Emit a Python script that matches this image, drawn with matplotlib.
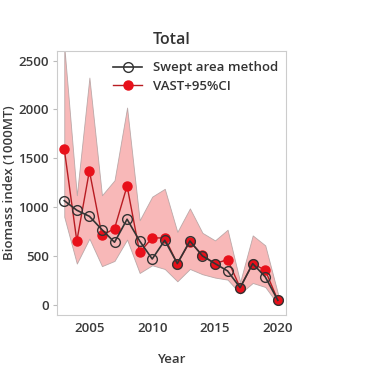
import matplotlib.pyplot as plt

# data
years = list(range(2003, 2021))
swept = [1069, 971, 909, 773, 644, 879, 657, 473, 664, 426, 657, 504, 426, 351, 180, 426, 290, 51]
vast = [1597, 657, 1373, 715, 783, 1219, 541, 688, 688, 426, 650, 511, 426, 467, 180, 426, 358, 51]
vast_hi = [2650, 1124, 2326, 1124, 1277, 2020, 869, 1110, 1190, 750, 990, 740, 663, 772, 238, 714, 612, 122]
vast_lo = [903, 426, 681, 400, 453, 671, 330, 409, 371, 245, 371, 317, 283, 262, 119, 228, 187, 10]

plt.rcParams['font.family'] = ['Open Sans', 'DejaVu Sans']

fig = plt.figure(figsize=(3.7, 3.76), dpi=100)
ax = fig.add_axes([0.155, 0.162, 0.618, 0.703])

ax.fill_between(years, vast_lo, vast_hi, facecolor='#f7acac', edgecolor='#b0a0a0',
                linewidth=0.6, alpha=0.85, zorder=1)
ax.plot(years, swept, color='#333333', lw=1.2, marker='o', ms=7,
        markerfacecolor='none', markeredgecolor='#333333', mew=1.0,
        label='Swept area method', zorder=3)
ax.plot(years, vast, color='#b81c22', lw=1.0, marker='o', ms=6.5,
        markerfacecolor='#e8101a', markeredgecolor='#e8101a',
        label='VAST+95%CI', zorder=2)

ax.set_xlim(2002.45, 2020.65)
ax.set_ylim(-100, 2600)
ax.set_xticks([2005, 2010, 2015, 2020])
ax.set_yticks([0, 500, 1000, 1500, 2000, 2500])

for s in ax.spines.values():
    s.set_color('#cccccc')
ax.tick_params(axis='both', labelsize=9.5, colors='#3a3a3a', length=3)
ax.tick_params(axis='x', length=0, pad=5)
ax.tick_params(axis='y', color='#bbbbbb', pad=3)
for lab in ax.get_xticklabels() + ax.get_yticklabels():
    lab.set_fontweight('semibold')

ax.set_title('Total', fontsize=11.5, color='#333333', pad=5, fontweight='semibold')
ax.set_xlabel('Year', fontsize=9.5, color='#3a3a3a', labelpad=13, fontweight='semibold')
ax.set_ylabel('Biomass index (1000MT)', fontsize=9.5, color='#3a3a3a', labelpad=2,
              fontweight='semibold')

leg = ax.legend(loc='upper right', frameon=False, fontsize=9.5, labelcolor='#333333',
                handlelength=2.2, borderaxespad=0.3, borderpad=0.3, labelspacing=0.4,
                bbox_to_anchor=(1.0, 0.99))
for t in leg.get_texts():
    t.set_fontweight('semibold')

fig.savefig('out.png', dpi=100)
